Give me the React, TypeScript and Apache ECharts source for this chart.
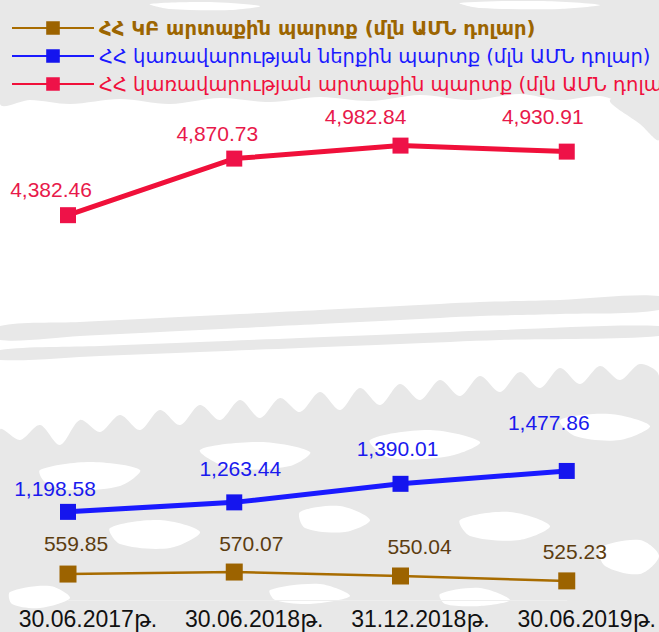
import React, { useEffect, useRef } from "react";
import * as echarts from "echarts";

const categories = ["30.06.2017թ.", "30.06.2018թ.", "31.12.2018թ.", "30.06.2019թ."];
const seriesNames = [
  "ՀՀ ԿԲ արտաքին պարտք (մլն ԱՄՆ դոլար)",
  "ՀՀ կառավարության ներքին պարտք (մլն ԱՄՆ դոլար)",
  "ՀՀ կառավարության արտաքին պարտք (մլն ԱՄՆ դոլար)",
];
const cbExternal = [559.85, 570.07, 550.04, 525.23];
const govDomestic = [1198.58, 1263.44, 1390.01, 1477.86];
const govExternal = [4382.46, 4870.73, 4982.84, 4930.91];

// label offsets (styling only)
const cbLabelOffsets = [[8, -7], [17, -5], [19, -5], [8, -5]];
const domLabelOffsets = [[-13, 0], [6, -10], [-3, -12], [-18, -25]];
const extLabelOffsets = [[-17, -2], [-17, -2], [-35, -6], [-24, -12]];

const LABEL_FONT = "'Liberation Sans', Arial, 'DejaVu Sans', sans-serif";
const LEGEND_FONT = "'DejaVu Sans', sans-serif";
const BG = "#e8e8e8";

function fmt(v: number) {
  return v.toLocaleString("en-US", { minimumFractionDigits: 2, maximumFractionDigits: 2 });
}

function bgShapes() {
  const poly = (points: number[][], fill = BG, z = -100) => ({
    type: "polygon",
    silent: true,
    z,
    shape: { points, smooth: 0.3 },
    style: { fill },
  });
  const hole = (points: number[][]) => poly(points, "#ffffff", -99);
  return [
    poly([
      [0, 0], [659, 0], [659, 96], [630, 104], [600, 96], [560, 100], [520, 94], [470, 100],
      [420, 95], [370, 101], [320, 97], [270, 102], [220, 98], [170, 104], [120, 99], [70, 104], [30, 100], [0, 104],
    ]),
    hole([[150, 4], [210, 2], [260, 6], [230, 10], [170, 9]]),
    hole([[460, 3], [540, 1], [600, 5], [560, 9], [480, 8]]),
    poly([[610, 100], [659, 94], [659, 140], [640, 124]]),
    poly([
      [0, 326], [80, 322], [160, 318], [240, 314], [320, 310], [400, 306], [480, 302], [560, 300], [659, 296],
      [659, 310], [560, 314], [480, 316], [400, 320], [320, 324], [240, 328], [160, 332], [80, 336], [0, 340],
    ]),
    poly([
      [0, 350], [100, 346], [200, 342], [300, 338], [400, 334], [500, 330], [659, 326],
      [659, 336], [500, 340], [400, 344], [300, 348], [200, 352], [100, 356], [0, 360],
    ]),
    poly([
      [0, 430], [20, 440], [40, 425], [60, 445], [80, 420], [100, 432], [120, 415], [140, 430], [160, 410],
      [180, 425], [200, 405], [220, 420], [240, 400], [260, 418], [280, 398], [300, 412], [320, 392],
      [340, 410], [360, 388], [380, 405], [400, 384], [420, 400], [440, 380], [460, 396], [480, 376],
      [500, 392], [520, 372], [540, 388], [560, 368], [580, 384], [600, 366], [620, 380], [640, 364], [659, 376],
      [659, 632], [0, 632],
    ]),
    hole([[40, 470], [90, 462], [140, 470], [120, 486], [70, 490], [45, 482]]),
    hole([[200, 450], [260, 442], [310, 452], [290, 466], [230, 468]]),
    hole([[370, 440], [430, 430], [480, 442], [450, 456], [390, 458]]),
    hole([[560, 420], [610, 414], [650, 426], [620, 440], [575, 436]]),
    hole([[110, 528], [160, 520], [200, 532], [170, 548], [120, 544]]),
    hole([[300, 512], [340, 506], [370, 520], [345, 532], [305, 528]]),
    hole([[460, 520], [510, 512], [550, 526], [520, 540], [470, 536]]),
    hole([[600, 548], [640, 540], [659, 556], [640, 574], [605, 566]]),
    hole([[10, 592], [50, 586], [70, 598], [40, 608], [12, 604]]),
    hole([[270, 590], [320, 584], [350, 596], [310, 604], [275, 600]]),
    hole([[440, 594], [480, 588], [510, 600], [480, 606], [445, 604]]),
  ];
}

export default function App() {
  const ref = useRef<HTMLDivElement>(null);
  useEffect(() => {
    if (!ref.current) return;
    const chart = echarts.init(ref.current, null, { renderer: "svg" });
    const mk = (vals: number[], offs: number[][]) =>
      vals.map((v, i) => ({ value: v, label: { offset: offs[i] } }));
    const labelBase = {
      show: true,
      position: "top",
      distance: 5,
      fontSize: 21,
      fontFamily: LABEL_FONT,
      formatter: (p: any) => fmt(p.value),
    };
    chart.setOption({
      animation: false,
      backgroundColor: "#ffffff",
      graphic: bgShapes(),
      legend: {
        orient: "vertical",
        left: 6,
        top: 12,
        itemWidth: 82,
        itemHeight: 17,
        itemGap: 6,
        textStyle: { fontSize: 19.5, fontFamily: LEGEND_FONT, lineHeight: 22 },
        data: [
          { name: seriesNames[0], textStyle: { color: "#9c6500", fontWeight: "bold" } },
          { name: seriesNames[1], textStyle: { color: "#1a1aff" } },
          { name: seriesNames[2], textStyle: { color: "#f0103c" } },
        ],
      },
      grid: { left: 68, right: 85, top: 100, bottom: 32 },
      xAxis: {
        type: "category",
        data: categories,
        boundaryGap: false,
        axisLine: { lineStyle: { color: "#eeeeee", width: 1 } },
        axisTick: { show: false },
        axisLabel: {
          interval: 0,
          hideOverlap: false,
          color: "#111111",
          fontSize: 23,
          fontFamily: LABEL_FONT,
          margin: 7,
          padding: [0, 0, 0, 40],
        },
      },
      yAxis: [
        { type: "value", show: false, min: 428.5, max: 2960.2, splitLine: { show: false } },
        { type: "value", show: false, min: 597.0, max: 4010.0, splitLine: { show: false } },
        { type: "value", show: false, min: 1062.2, max: 5376.3, splitLine: { show: false } },
      ],
      series: [
        {
          name: seriesNames[0],
          type: "line",
          yAxisIndex: 0,
          data: mk(cbExternal, cbLabelOffsets),
          symbol: "rect",
          symbolSize: 17,
          lineStyle: { color: "#a86c00", width: 2.5 },
          itemStyle: { color: "#9c6300" },
          label: { ...labelBase, color: "#5c3d10" },
        },
        {
          name: seriesNames[1],
          type: "line",
          yAxisIndex: 1,
          data: mk(govDomestic, domLabelOffsets),
          symbol: "rect",
          symbolSize: 16,
          lineStyle: { color: "#1a1aff", width: 5 },
          itemStyle: { color: "#1515ee" },
          label: { ...labelBase, color: "#1a1aee" },
        },
        {
          name: seriesNames[2],
          type: "line",
          yAxisIndex: 2,
          data: mk(govExternal, extLabelOffsets),
          symbol: "rect",
          symbolSize: 16,
          lineStyle: { color: "#f0103a", width: 5 },
          itemStyle: { color: "#ee1248" },
          label: { ...labelBase, color: "#e8194a" },
        },
      ],
    });
    return () => chart.dispose();
  }, []);
  return (
    <div
      ref={ref}
      style={{ position: "fixed", left: 0, top: 0, width: 659, height: 632 }}
    />
  );
}
